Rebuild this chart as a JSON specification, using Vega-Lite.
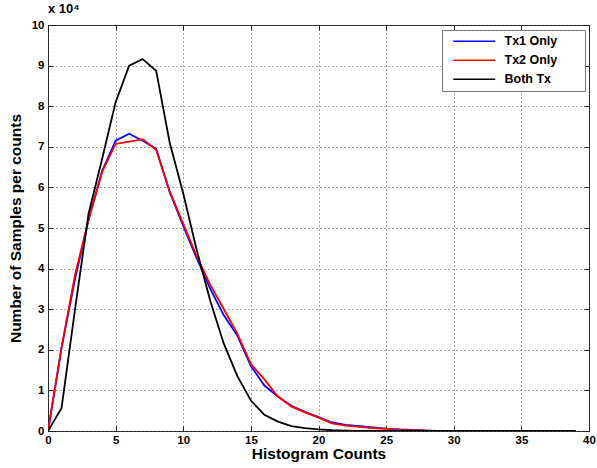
{
  "$schema": "https://vega.github.io/schema/vega-lite/v6.json",
  "autosize": "none",
  "width": 541,
  "height": 406,
  "padding": {"left": 48, "top": 25, "right": 8, "bottom": 37},
  "background": "white",
  "title": {"text": "x 10⁴", "anchor": "start", "frame": "group", "fontSize": 13, "font": "Liberation Sans", "fontWeight": "bold", "color": "#000", "offset": 3},
  "config": {
    "view": {"stroke": "#222", "strokeWidth": 1},
    "font": "Liberation Sans",
    "axis": {"labelFont": "Liberation Sans", "labelFontWeight": "bold", "labelFontSize": 11.5, "labelColor": "#000", "titleFont": "Liberation Sans", "titleFontWeight": "bold", "titleFontSize": 15.5, "titleColor": "#000", "domain": false, "tickColor": "#222", "gridColor": "#555", "gridDash": [1, 3], "gridOpacity": 1, "gridWidth": 1}
  },
  "data": {"values": [
    {"x":0,"n":0,"s":"Tx1 Only"},{"x":1,"n":20500,"s":"Tx1 Only"},{"x":2,"n":37500,"s":"Tx1 Only"},{"x":3,"n":52000,"s":"Tx1 Only"},{"x":4,"n":64000,"s":"Tx1 Only"},{"x":5,"n":71500,"s":"Tx1 Only"},{"x":6,"n":73200,"s":"Tx1 Only"},{"x":7,"n":71500,"s":"Tx1 Only"},{"x":8,"n":69500,"s":"Tx1 Only"},{"x":9,"n":58800,"s":"Tx1 Only"},{"x":10,"n":50500,"s":"Tx1 Only"},{"x":11,"n":42500,"s":"Tx1 Only"},{"x":12,"n":35000,"s":"Tx1 Only"},{"x":13,"n":28500,"s":"Tx1 Only"},{"x":14,"n":23500,"s":"Tx1 Only"},{"x":15,"n":16000,"s":"Tx1 Only"},{"x":16,"n":11200,"s":"Tx1 Only"},{"x":17,"n":8500,"s":"Tx1 Only"},{"x":18,"n":6200,"s":"Tx1 Only"},{"x":19,"n":4700,"s":"Tx1 Only"},{"x":20,"n":3400,"s":"Tx1 Only"},{"x":21,"n":2100,"s":"Tx1 Only"},{"x":22,"n":1500,"s":"Tx1 Only"},{"x":23,"n":1200,"s":"Tx1 Only"},{"x":24,"n":900,"s":"Tx1 Only"},{"x":25,"n":600,"s":"Tx1 Only"},{"x":26,"n":400,"s":"Tx1 Only"},{"x":27,"n":300,"s":"Tx1 Only"},{"x":28,"n":100,"s":"Tx1 Only"},{"x":29,"n":50,"s":"Tx1 Only"},{"x":30,"n":0,"s":"Tx1 Only"},{"x":31,"n":0,"s":"Tx1 Only"},{"x":32,"n":0,"s":"Tx1 Only"},{"x":33,"n":0,"s":"Tx1 Only"},{"x":34,"n":0,"s":"Tx1 Only"},{"x":35,"n":0,"s":"Tx1 Only"},{"x":36,"n":0,"s":"Tx1 Only"},{"x":37,"n":0,"s":"Tx1 Only"},{"x":38,"n":0,"s":"Tx1 Only"},{"x":39,"n":0,"s":"Tx1 Only"},
    {"x":0,"n":0,"s":"Tx2 Only"},{"x":1,"n":20500,"s":"Tx2 Only"},{"x":2,"n":38500,"s":"Tx2 Only"},{"x":3,"n":52000,"s":"Tx2 Only"},{"x":4,"n":63800,"s":"Tx2 Only"},{"x":5,"n":70700,"s":"Tx2 Only"},{"x":6,"n":71300,"s":"Tx2 Only"},{"x":7,"n":71900,"s":"Tx2 Only"},{"x":8,"n":69200,"s":"Tx2 Only"},{"x":9,"n":59000,"s":"Tx2 Only"},{"x":10,"n":51000,"s":"Tx2 Only"},{"x":11,"n":43000,"s":"Tx2 Only"},{"x":12,"n":36000,"s":"Tx2 Only"},{"x":13,"n":30000,"s":"Tx2 Only"},{"x":14,"n":24000,"s":"Tx2 Only"},{"x":15,"n":16500,"s":"Tx2 Only"},{"x":16,"n":12700,"s":"Tx2 Only"},{"x":17,"n":8500,"s":"Tx2 Only"},{"x":18,"n":6000,"s":"Tx2 Only"},{"x":19,"n":4600,"s":"Tx2 Only"},{"x":20,"n":3300,"s":"Tx2 Only"},{"x":21,"n":1900,"s":"Tx2 Only"},{"x":22,"n":1300,"s":"Tx2 Only"},{"x":23,"n":1000,"s":"Tx2 Only"},{"x":24,"n":700,"s":"Tx2 Only"},{"x":25,"n":500,"s":"Tx2 Only"},{"x":26,"n":300,"s":"Tx2 Only"},{"x":27,"n":200,"s":"Tx2 Only"},{"x":28,"n":100,"s":"Tx2 Only"},{"x":29,"n":0,"s":"Tx2 Only"},{"x":30,"n":0,"s":"Tx2 Only"},{"x":31,"n":0,"s":"Tx2 Only"},{"x":32,"n":0,"s":"Tx2 Only"},{"x":33,"n":0,"s":"Tx2 Only"},{"x":34,"n":0,"s":"Tx2 Only"},{"x":35,"n":0,"s":"Tx2 Only"},{"x":36,"n":0,"s":"Tx2 Only"},{"x":37,"n":0,"s":"Tx2 Only"},{"x":38,"n":0,"s":"Tx2 Only"},{"x":39,"n":0,"s":"Tx2 Only"},
    {"x":0,"n":0,"s":"Both Tx"},{"x":1,"n":5600,"s":"Both Tx"},{"x":2,"n":30000,"s":"Both Tx"},{"x":3,"n":53500,"s":"Both Tx"},{"x":4,"n":67000,"s":"Both Tx"},{"x":5,"n":81000,"s":"Both Tx"},{"x":6,"n":90000,"s":"Both Tx"},{"x":7,"n":91600,"s":"Both Tx"},{"x":8,"n":88700,"s":"Both Tx"},{"x":9,"n":71000,"s":"Both Tx"},{"x":10,"n":58500,"s":"Both Tx"},{"x":11,"n":44500,"s":"Both Tx"},{"x":12,"n":32000,"s":"Both Tx"},{"x":13,"n":21500,"s":"Both Tx"},{"x":14,"n":13500,"s":"Both Tx"},{"x":15,"n":7500,"s":"Both Tx"},{"x":16,"n":4000,"s":"Both Tx"},{"x":17,"n":2300,"s":"Both Tx"},{"x":18,"n":1200,"s":"Both Tx"},{"x":19,"n":700,"s":"Both Tx"},{"x":20,"n":400,"s":"Both Tx"},{"x":21,"n":200,"s":"Both Tx"},{"x":22,"n":100,"s":"Both Tx"},{"x":23,"n":0,"s":"Both Tx"},{"x":24,"n":0,"s":"Both Tx"},{"x":25,"n":0,"s":"Both Tx"},{"x":26,"n":0,"s":"Both Tx"},{"x":27,"n":0,"s":"Both Tx"},{"x":28,"n":0,"s":"Both Tx"},{"x":29,"n":0,"s":"Both Tx"},{"x":30,"n":0,"s":"Both Tx"},{"x":31,"n":0,"s":"Both Tx"},{"x":32,"n":0,"s":"Both Tx"},{"x":33,"n":0,"s":"Both Tx"},{"x":34,"n":0,"s":"Both Tx"},{"x":35,"n":0,"s":"Both Tx"},{"x":36,"n":0,"s":"Both Tx"},{"x":37,"n":0,"s":"Both Tx"},{"x":38,"n":0,"s":"Both Tx"},{"x":39,"n":0,"s":"Both Tx"}
  ]},
  "layer": [
    {
      "mark": {"type": "line", "strokeWidth": 1.8, "clip": true},
      "encoding": {
        "x": {"field": "x", "type": "quantitative", "scale": {"domain": [0, 40], "nice": false, "zero": false},
              "axis": {"title": "Histogram Counts", "values": [0,5,10,15,20,25,30,35,40], "grid": true, "tickSize": -5, "labelPadding": 8, "titlePadding": 1, "labelFlush": false}},
        "y": {"field": "n", "type": "quantitative", "scale": {"domain": [0, 100000], "nice": false},
              "axis": {"title": "Number of Samples per counts", "values": [0,10000,20000,30000,40000,50000,60000,70000,80000,90000,100000], "labelExpr": "datum.value / 10000", "grid": true, "tickSize": -5, "labelPadding": 9, "titlePadding": 8, "labelFlush": false}},
        "color": {"field": "s", "type": "nominal",
                  "scale": {"domain": ["Tx1 Only", "Tx2 Only", "Both Tx"], "range": ["#0000FF", "#FF0000", "#000000"]},
                  "legend": {"title": "\u00a0", "titleOrient": "right", "titlePadding": 23, "orient": "none", "legendX": 394, "legendY": 5, "symbolType": "M0,0H8.4", "symbolSize": 100, "symbolStrokeWidth": 1.5, "labelFont": "Liberation Sans", "labelFontWeight": "bold", "labelFontSize": 12.5, "labelColor": "#000", "fillColor": "white", "strokeColor": "#777", "padding": 5, "rowPadding": 6, "labelOffset": 45}},
        "order": {"field": "x", "type": "quantitative"}
      }
    },
    {
      "mark": {"type": "rule", "opacity": 0},
      "encoding": {
        "x": {"datum": 0, "type": "quantitative", "axis": {"orient": "top", "title": null, "labels": false, "grid": false, "values": [0,5,10,15,20,25,30,35,40], "tickSize": -5}},
        "y": {"datum": 0, "type": "quantitative", "axis": {"orient": "right", "title": null, "labels": false, "grid": false, "values": [0,10000,20000,30000,40000,50000,60000,70000,80000,90000,100000], "tickSize": -5}}
      }
    }
  ],
  "resolve": {"axis": {"x": "independent", "y": "independent"}}
}
